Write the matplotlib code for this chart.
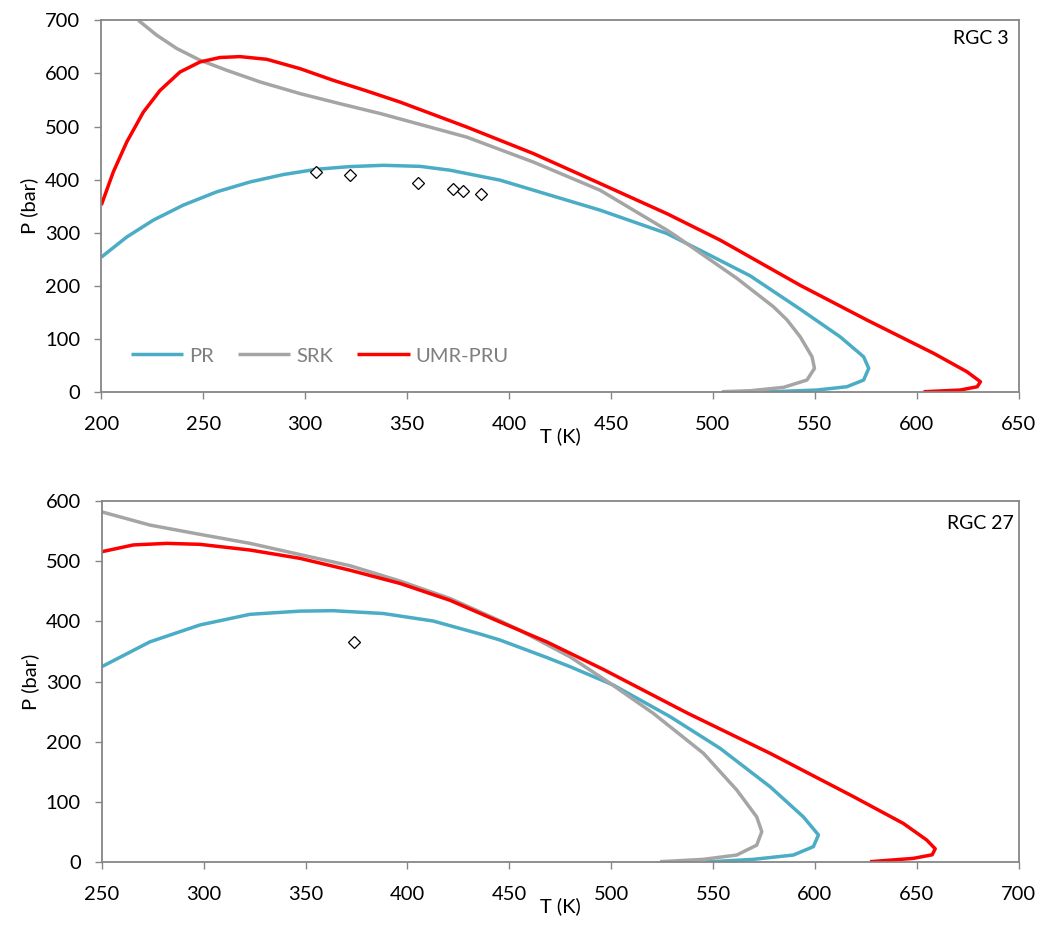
import matplotlib
matplotlib.use("Agg")
import matplotlib.pyplot as plt

plt.rcParams["font.family"] = ["Lato", "DejaVu Sans"]

# RGC 3 phase envelopes (T in K, P in bar)
pr3_T = [200, 212.5, 225.5, 240.2, 256.6, 273, 289.3, 305.7, 322, 338.4, 356.4, 371,
         395.6, 420.2, 444.7, 477.4, 493.7, 518.2, 542.8, 562.4, 573.9, 576.4, 573.9,
         565.7, 551, 524.8]
pr3_P = [254, 292, 323.7, 352, 377, 395.7, 409.6, 419.6, 424.6, 427, 425, 417.8,
         399, 370.7, 342.5, 298.6, 267, 219, 156, 104, 66.4, 44.6, 22.6,
         10, 3.8, 0]

srk3_T = [218.2, 227.2, 237, 248.4, 261.5, 277.9, 297.5, 317.1, 336.8, 356.4, 379.3,
          412, 444.7, 477.4, 481, 511.8, 529.7, 536.3, 542.8, 548.6, 549.8, 546.1,
          534.6, 518.3, 504.4]
srk3_P = [700, 672, 647, 625, 606, 584, 562, 543, 524.5, 504, 480,
          433, 380, 305, 296, 214, 160.5, 136, 104, 66.4, 44.6, 22.6,
          8.8, 2.5, 0.6]

umr3_T = [200, 205.9, 212.5, 220.6, 228.8, 238.6, 248.4, 258.2, 268, 281.2, 297.5,
          313.8, 330.2, 346.6, 379.3, 412, 444.7, 477.4, 503.6, 542.8, 575.6, 608.3,
          624.6, 631.2, 629.6, 621.3, 603.3]
umr3_P = [352, 414.6, 471, 527, 568, 602.7, 621.6, 630, 631.7, 626.6, 609,
          587, 567, 546, 499, 449, 392.7, 336, 286, 201, 135.5, 72.8,
          38.2, 19.4, 10, 3.8, 0.6]

exp3_T = [305.3, 322, 355.2, 372.4, 377.6, 386.3]
exp3_P = [413.7, 408, 393.6, 383, 379, 373]

# RGC 27 phase envelopes
pr27_T = [250, 273.7, 298.2, 322.8, 347.3, 363.6, 388.2, 412.7, 435.6, 445.4, 468.3,
          479.8, 501.1, 528.9, 553.4, 578, 594.3, 601.7, 599.2, 589.4, 569.8, 546]
pr27_P = [324.6, 366, 394, 411.7, 417, 417.7, 413, 400.5, 379, 369, 340,
          324.7, 294, 241.6, 189, 125, 75, 45, 25.5, 11.6, 4.4, 0]

srk27_T = [250, 273.7, 298.2, 322.8, 347.3, 371.8, 396.4, 420.9, 445.4, 455.3, 479.8,
           499.5, 520.7, 545.3, 561.6, 571.4, 573.9, 571.4, 561.6, 545.3, 524]
srk27_P = [582, 560, 544.6, 529.6, 511, 492.5, 467, 438, 401, 385, 341,
           297, 247, 180.6, 119.7, 75, 50.4, 28, 11.6, 4.4, 0.5]

umr27_T = [250, 265.5, 281.9, 298.2, 322.8, 347.3, 371.8, 396.4, 420.9, 445.4, 468.3,
           496.2, 537.1, 578, 618.9, 643.4, 654.8, 659, 657.5, 648.2, 627]
umr27_P = [515.7, 527, 529.6, 528, 518.5, 504.7, 485, 463, 435, 399, 366,
           320, 248, 180.6, 108.6, 64, 36.6, 22, 12, 6, 0.5]

exp27_T = [373.8]
exp27_P = [365]

blue = "#4BACC6"
grey = "#A5A5A5"
red = "#FF0000"
spine = "#868686"

fig = plt.figure(figsize=(10.4, 9.33), dpi=100)
ax1 = fig.add_axes([0.0974, 0.5798, 0.8822, 0.3984])
ax2 = fig.add_axes([0.0978, 0.0761, 0.8818, 0.3869])


def style(ax, xlim, ylim, xticks, yticks):
    ax.set_xlim(*xlim)
    ax.set_ylim(*ylim)
    ax.set_xticks(xticks)
    ax.set_yticks(yticks)
    for s in ax.spines.values():
        s.set_color(spine)
        s.set_linewidth(1.3)
    ax.tick_params(axis="x", length=5, width=1, color=spine, pad=12, labelsize=14.5)
    ax.tick_params(axis="y", length=5, width=1, color=spine, pad=10, labelsize=14.5)
    ax.set_xlabel("T (K)", fontsize=14.5, labelpad=-4)
    ax.set_ylabel("P (bar)", fontsize=14.5, labelpad=5)


lw = 2.5
kw = dict(lw=lw, solid_joinstyle="round", solid_capstyle="butt")
ax1.plot(pr3_T, pr3_P, color=blue, label="PR", **kw)
ax1.plot(srk3_T, srk3_P, color=grey, label="SRK", **kw)
ax1.plot(umr3_T, umr3_P, color=red, label="UMR-PRU", **kw)
ax1.plot(exp3_T, exp3_P, "D", ms=6.5, mfc="white", mec="black", mew=0.9)
style(ax1, (200, 650), (0, 700), range(200, 651, 50), range(0, 701, 100))
ax1.text(0.989, 0.975, "RGC 3", transform=ax1.transAxes, ha="right", va="top", fontsize=14)
leg = ax1.legend(loc="center left", bbox_to_anchor=(0.032, 0.097), ncol=3, frameon=False,
                 fontsize=14.5, handlelength=2.6, handletextpad=0.3, columnspacing=1.2,
                 borderpad=0, borderaxespad=0)
for t in leg.get_texts():
    t.set_color("#7F7F7F")

ax2.plot(pr27_T, pr27_P, color=blue, **kw)
ax2.plot(srk27_T, srk27_P, color=grey, **kw)
ax2.plot(umr27_T, umr27_P, color=red, **kw)
ax2.plot(exp27_T, exp27_P, "D", ms=6.5, mfc="white", mec="black", mew=0.9)
style(ax2, (250, 700), (0, 600), range(250, 701, 50), range(0, 601, 100))
ax2.text(0.995, 0.96, "RGC 27", transform=ax2.transAxes, ha="right", va="top", fontsize=14)

fig.savefig("out.png", dpi=100)
